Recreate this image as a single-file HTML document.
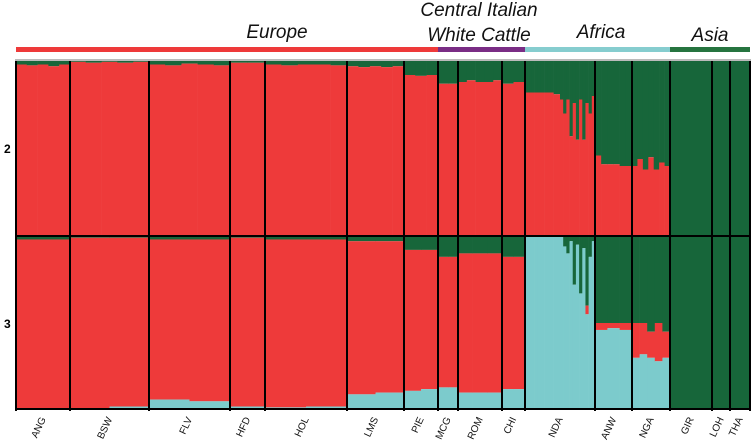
<!DOCTYPE html>
<html><head><meta charset="utf-8"><style>
body{margin:0;background:#fff;width:751px;height:447px;overflow:hidden;font-family:"Liberation Sans",sans-serif}
svg{display:block}
</style></head><body>
<svg id="chart" width="751" height="447" xmlns="http://www.w3.org/2000/svg">
<g id="hdr" font-family="Liberation Sans, sans-serif" font-style="italic" font-size="19" fill="#111" text-anchor="middle">
<text x="277" y="38">Europe</text>
<text x="479" y="16">Central Italian</text>
<text x="479" y="41">White Cattle</text>
<text x="601" y="38">Africa</text>
<text x="710" y="41">Asia</text>
<rect x="16" y="47" width="422" height="5" fill="#ee3a3a"/>
<rect x="438" y="47" width="87" height="5" fill="#7a2d85"/>
<rect x="525" y="47" width="145" height="5" fill="#86cdcf"/>
<rect x="670" y="47" width="80" height="5" fill="#26743f"/>
</g>
<g id="bars"></g>
<g id="seps"></g>
<g id="labels"></g>
<text x="4" y="153" font-size="12" font-weight="bold">2</text>
<text x="4" y="328" font-size="12" font-weight="bold">3</text>
</svg>
<script>
const pops=["ANG","BSW","FLV","HFD","HOL","LMS","PIE","MCG","ROM","CHI","NDA","ANW","NGA","GIR","LOH","THA"];
const popBounds=[16,70,149,230,265,347,404,438,458,502,525,595,632,670,712,730,750];
// K=2: green fraction per individual (rest red)
const k2Green=[
[0.02,0.025,0.02,0.03,0.02],[0.005,0.01,0.005,0.01,0.005],[0.02,0.025,0.015,0.02,0.025],[0.01,0.01],
[0.02,0.025,0.02,0.02,0.025],[0.03,0.035,0.03,0.035,0.03],[0.08,0.085,0.08],[0.13,0.13],
[0.12,0.11,0.12,0.12,0.11],[0.13,0.12],
[0.18,0.18,0.18,0.18,0.18,0.18,0.18,0.18,0.18,0.19,0.19,0.22,0.3,0.22,0.43,0.24,0.45,0.22,0.45,0.24,0.3,0.2],
[0.54,0.59,0.59,0.59,0.6,0.6],[0.6,0.56,0.62,0.55,0.62,0.58,0.6],[1],[1],[1]];
// K=3: green fraction per individual
const k3Green=[
[0.02,0.02,0.02],[0.01,0.01],[0.02,0.02],[0.01],[0.02,0.02],[0.03,0.03],[0.08,0.08],[0.12,0.12],
[0.1,0.1,0.1],[0.12,0.12],
[0,0,0,0,0,0,0,0,0,0,0,0,0.06,0.1,0.03,0.28,0.05,0.33,0.07,0.4,0.12,0.03],
[0.5,0.5,0.5],[0.5,0.5,0.55,0.5,0.55],[1],[1],[1]];
// K=3: cyan fraction per individual (rest red)
const k3Cyan=[
[0.01,0.01,0.01],[0.01,0.02],[0.06,0.05],[0.02],[0.015,0.02],[0.09,0.1],[0.11,0.12],[0.13,0.13],
[0.1,0.1,0.1],[0.12,0.12],
[1,1,1,1,1,1,1,1,1,1,1,1,0.94,0.9,0.97,0.72,0.95,0.67,0.93,0.55,0.88,0.97],
[0.46,0.47,0.46],[0.3,0.32,0.3,0.28,0.3],[0],[0],[0]];
const rows=[{top:61,h:175},{top:236,h:174}];
const C={r:"#ee3a3a",g:"#17663a",c:"#7ccbcc"};
const NS="http://www.w3.org/2000/svg";
const gb=document.getElementById("bars"),gs=document.getElementById("seps"),gl=document.getElementById("labels");
function yAt(row,f){return rows[row].top+f*rows[row].h;}
function rect(x,y,w,h,fill,name){const r=document.createElementNS(NS,"rect");
r.setAttribute("x",x);r.setAttribute("y",y);r.setAttribute("width",w);r.setAttribute("height",Math.max(0,h));r.setAttribute("fill",fill);


gb.appendChild(r);}
pops.forEach((p,i)=>{
 const x0=popBounds[i],x1=popBounds[i+1];
 let a=k2Green[i],w=(x1-x0)/a.length;
 a.forEach((g,j)=>{const x=x0+j*w;
  rect(x,yAt(0,0),w+0.3,yAt(0,g)-yAt(0,0),C.g,"k2-green-"+p);
  rect(x,yAt(0,g),w+0.3,yAt(0,1)-yAt(0,g),C.r,"k2-red-"+p);});
 a=k3Green[i];w=(x1-x0)/a.length;
 a.forEach((g,j)=>{const x=x0+j*w,c=k3Cyan[i][j];
  rect(x,yAt(1,0),w+0.3,yAt(1,g)-yAt(1,0),C.g,"k3-green-"+p);
  rect(x,yAt(1,g),w+0.3,yAt(1,1-c)-yAt(1,g),C.r,"k3-red-"+p);
  rect(x,yAt(1,1-c),w+0.3,yAt(1,1)-yAt(1,1-c),C.c,"k3-cyan-"+p);});
 const cx=(x0+x1)/2;
 const t=document.createElementNS(NS,"text");
 t.setAttribute("transform","translate("+(cx+3)+",419) rotate(-65)");
 t.setAttribute("text-anchor","end");t.setAttribute("font-size","10");t.setAttribute("fill","#111");
 t.textContent=p;
 
 
 gl.appendChild(t);
});
popBounds.forEach((x,i)=>{const l=document.createElementNS(NS,"rect");
 l.setAttribute("x",x-1);l.setAttribute("y",61);l.setAttribute("width",2);l.setAttribute("height",350);l.setAttribute("fill","#000");
 
 
 gs.appendChild(l);});
[[236,2],[409,2],[60,1]].forEach(([y,h],i)=>{const l=document.createElementNS(NS,"rect");
 l.setAttribute("x",15);l.setAttribute("y",y-h/2);l.setAttribute("width",736);l.setAttribute("height",h);l.setAttribute("fill",i==2?"#777":"#000");
 
 
 gs.appendChild(l);});
</script>
</body></html>
